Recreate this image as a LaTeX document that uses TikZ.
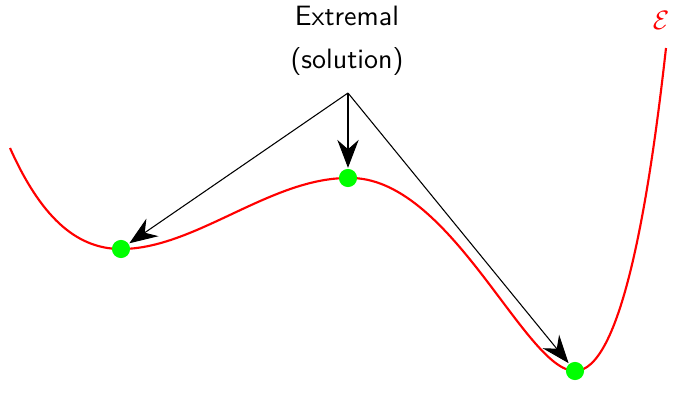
\documentclass[tikz,border=0pt]{standalone}
\usetikzlibrary{arrows.meta}
\begin{document}
\begin{tikzpicture}[x=0.375pt,y=-0.375pt,
  curve/.style={red,line width=0.8pt},
  extremum/.style={circle,fill=green,inner sep=0pt,minimum size=6.8pt},
  pointer/.style={-{Stealth[length=10.5pt,width=8pt,inset=3.5pt]},line width=0.4pt,shorten >=0.2pt},
  lbl/.style={font=\sffamily\fontsize{10.5}{12.6}\selectfont,align=center}]
\useasboundingbox (0,0) rectangle (674,402);
\draw[curve] (10,148) .. controls (40,215) and (75,249) .. (121,249)
  .. controls (195,249) and (270,178) .. (348,178)
  .. controls (450,175) and (525,371) .. (575,371)
  .. controls (620,371) and (648,210) .. (666,48);
\node[extremum] (m1) at (121,249) {};
\node[extremum] (m2) at (348,178) {};
\node[extremum] (m3) at (575,371) {};
\node[lbl] (t) at (347,41) {Extremal\\[3.5pt](solution)};
\coordinate (src) at (348,93);
\node[red] (E) at (661,20) {$\mathcal{E}$};
\draw[pointer] (src) -- (m1);
\draw[pointer] (src) -- (m2);
\draw[pointer] (src) -- (m3);
\end{tikzpicture}
\end{document}
